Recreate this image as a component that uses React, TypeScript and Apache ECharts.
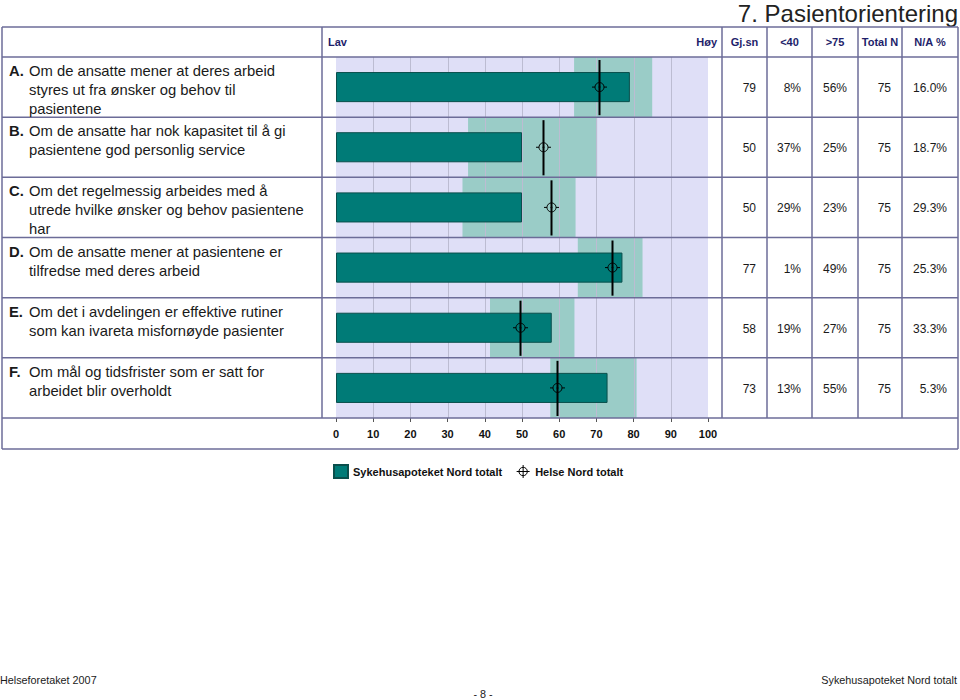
import React, { useEffect, useRef } from 'react';
import * as echarts from 'echarts';

// ---------- data ----------
const CATEGORIES = ['A', 'B', 'C', 'D', 'E', 'F'];
const QUESTIONS: string[][] = [
  ['Om de ansatte mener at deres arbeid', 'styres ut fra ønsker og behov til', 'pasientene'],
  ['Om de ansatte har nok kapasitet til å gi', 'pasientene god personlig service'],
  ['Om det regelmessig arbeides med å', 'utrede hvilke ønsker og behov pasientene', 'har'],
  ['Om de ansatte mener at pasientene er', 'tilfredse med deres arbeid'],
  ['Om det i avdelingen er effektive rutiner', 'som kan ivareta misfornøyde pasienter'],
  ['Om mål og tidsfrister som er satt for', 'arbeidet blir overholdt'],
];
const GJSN = [79, 50, 50, 77, 58, 73];
const UNDER40 = ['8%', '37%', '29%', '1%', '19%', '13%'];
const OVER75 = ['56%', '25%', '23%', '49%', '27%', '55%'];
const TOTAL_N = [75, 75, 75, 75, 75, 75];
const NA_PCT = ['16.0%', '18.7%', '29.3%', '25.3%', '33.3%', '5.3%'];
const HELSE_NORD = [70.7, 55.7, 57.8, 74.2, 49.4, 59.4];
const RANGE_LOW = [64, 35.5, 34, 65, 41.4, 57.6];
const RANGE_HIGH = [85, 70.2, 64.4, 82.4, 64.1, 80.8];
const X_TICKS_MIN = 0;
const X_TICKS_MAX = 100;
const X_INTERVAL = 10;
const HEADERS = ['Gj.sn', '<40', '>75', 'Total N', 'N/A %'];
const TITLE = '7. Pasientorientering';
const SERIES_UNIT = 'Sykehusapoteket Nord totalt';
const SERIES_REF = 'Helse Nord totalt';
const FOOTER_LEFT = 'Helseforetaket 2007';
const FOOTER_MID = '- 8 -';
const FOOTER_RIGHT = 'Sykehusapoteket Nord totalt';

// ---------- layout / style ----------
const FONT = '"Liberation Sans", Arial, Helvetica, sans-serif';
const LINE = '#6C6C98';
const NAVY = '#1E1E6A';
const TXT = '#1A1A1A';
const LAVENDER = '#DFDFF7';
const BAND = '#9ACCC7';
const GRIDLINE = '#BCBCD2';
const TEAL = '#007B77';
const TEAL_BORDER = '#0A4F4C';

const TABLE_L = 2;
const TABLE_R = 958;
const TABLE_T = 27;
const HEADER_B = 57;
const ROWS_B = 418;
const TABLE_B = 449;
const LABEL_DIV = 322;
const COL_X = [722, 767, 812, 858, 902, 958];
const GRID_L = 336;
const GRID_W = 372;

const MARKER_ICON =
  'path://M7,0 L7,14 M0,7 L14,7 M11.5,7 C11.5,9.49 9.49,11.5 7,11.5 C4.51,11.5 2.5,9.49 2.5,7 C2.5,4.51 4.51,2.5 7,2.5 C9.49,2.5 11.5,4.51 11.5,7 Z';

export default function App() {
  const ref = useRef<HTMLDivElement>(null);

  useEffect(() => {
    if (!ref.current) return;
    const chart = echarts.init(ref.current, undefined, { renderer: 'svg' });
    const n = CATEGORIES.length;
    const rowH = (ROWS_B - HEADER_B) / n;
    const rowTop = (i: number) => HEADER_B + i * rowH;

    const g: any[] = [];
    // title
    g.push({
      type: 'text', x: TABLE_R, y: 13, z: 100,
      style: { text: TITLE, fill: '#222', fontSize: 24, fontFamily: FONT, align: 'right', verticalAlign: 'middle' },
    });
    // table lines
    const hl = (y: number) => g.push({
      type: 'line', z: 100, shape: { x1: TABLE_L, y1: y, x2: TABLE_R, y2: y },
      style: { stroke: LINE, lineWidth: 1.5 },
    });
    const vl = (x: number, y1: number, y2: number) => g.push({
      type: 'line', z: 100, shape: { x1: x, y1, x2: x, y2 },
      style: { stroke: LINE, lineWidth: 1.5 },
    });
    hl(TABLE_T);
    hl(HEADER_B);
    for (let i = 1; i <= n; i++) hl(rowTop(i));
    hl(TABLE_B);
    vl(TABLE_L, TABLE_T, TABLE_B);
    vl(TABLE_R, TABLE_T, TABLE_B);
    vl(LABEL_DIV, TABLE_T, ROWS_B);
    for (let c = 0; c < COL_X.length - 1; c++) vl(COL_X[c], TABLE_T, ROWS_B);

    // header texts
    const headY = (TABLE_T + HEADER_B) / 2;
    const headStyle = { fill: NAVY, fontSize: 11, fontWeight: 'bold', fontFamily: FONT, verticalAlign: 'middle' };
    g.push({ type: 'text', x: 328, y: headY, z: 100, style: { ...headStyle, text: 'Lav', align: 'left' } });
    g.push({ type: 'text', x: COL_X[0] - 5, y: headY, z: 100, style: { ...headStyle, text: 'Høy', align: 'right' } });
    HEADERS.forEach((h, c) => {
      g.push({
        type: 'text', x: (COL_X[c] + COL_X[c + 1]) / 2, y: headY, z: 100,
        style: { ...headStyle, text: h, align: 'center' },
      });
    });

    // row labels and values
    const cols = [GJSN.map(String), UNDER40, OVER75, TOTAL_N.map(String), NA_PCT];
    for (let i = 0; i < n; i++) {
      const top = rowTop(i);
      g.push({
        type: 'text', x: 9, y: top + 14, z: 100,
        style: { text: CATEGORIES[i] + '.', fill: TXT, fontSize: 14.8, fontWeight: 'bold', fontFamily: FONT, align: 'left', verticalAlign: 'middle' },
      });
      g.push({
        type: 'text', x: 29, y: top + 4.5, z: 100,
        style: { text: QUESTIONS[i].join('\n'), fill: TXT, fontSize: 14.8, lineHeight: 19, fontFamily: FONT, align: 'left', verticalAlign: 'top' },
      });
      const cy = top + rowH / 2 + 1;
      cols.forEach((col, c) => {
        g.push({
          type: 'text', x: COL_X[c + 1] - 11, y: cy, z: 100,
          style: { text: col[i], fill: TXT, fontSize: 12, fontFamily: FONT, align: 'right', verticalAlign: 'middle' },
        });
      });
    }

    // footer
    const footStyle = { fill: TXT, fontSize: 10.8, fontFamily: FONT, verticalAlign: 'middle' };
    g.push({ type: 'text', x: 0, y: 680, style: { ...footStyle, text: FOOTER_LEFT, align: 'left' } });
    g.push({ type: 'text', x: 483, y: 694, style: { ...footStyle, text: FOOTER_MID, align: 'center' } });
    g.push({ type: 'text', x: 957, y: 680, style: { ...footStyle, text: FOOTER_RIGHT, align: 'right' } });

    const bgData = CATEGORIES.map((_, i) => [i, RANGE_LOW[i], RANGE_HIGH[i]]);
    const refData = CATEGORIES.map((_, i) => [i, HELSE_NORD[i]]);

    chart.setOption({
      animation: false,
      grid: { left: GRID_L, top: HEADER_B, width: GRID_W, height: ROWS_B - HEADER_B, containLabel: false },
      xAxis: {
        type: 'value', min: X_TICKS_MIN, max: X_TICKS_MAX, interval: X_INTERVAL,
        axisLine: { show: false },
        axisTick: { show: true, length: 4, lineStyle: { color: '#555', width: 1 } },
        axisLabel: { fontSize: 11, fontWeight: 'bold', color: '#111', fontFamily: FONT, margin: 10 },
        splitLine: { show: false },
      },
      yAxis: {
        type: 'category', data: CATEGORIES, inverse: true, show: false,
      },
      legend: {
        left: 328, top: 459, itemWidth: 14, itemHeight: 13, itemGap: 14,
        textStyle: { fontSize: 11, fontWeight: 'bold', color: '#111', fontFamily: FONT },
        selectedMode: false,
        data: [
          { name: SERIES_UNIT, icon: 'rect' },
          {
            name: SERIES_REF,
            icon: MARKER_ICON,
            itemStyle: { color: 'rgba(0,0,0,0)', borderColor: '#000', borderWidth: 1 },
          },
        ],
      },
      graphic: { elements: g },
      series: [
        {
          type: 'custom', name: 'bg', silent: true, z: 1,
          encode: { x: [1, 2], y: 0 },
          data: bgData,
          renderItem: (_p: any, api: any) => {
            const idx = api.value(0);
            const lo = api.value(1);
            const hi = api.value(2);
            const c0 = api.coord([X_TICKS_MIN, idx]);
            const c100 = api.coord([X_TICKS_MAX, idx]);
            const h = api.size([0, 1])[1];
            const top = c0[1] - h / 2;
            const xl = api.coord([lo, idx])[0];
            const xh = api.coord([hi, idx])[0];
            const children: any[] = [
              { type: 'rect', shape: { x: c0[0], y: top, width: c100[0] - c0[0], height: h }, style: { fill: LAVENDER } },
              { type: 'rect', shape: { x: xl, y: top, width: xh - xl, height: h }, style: { fill: BAND } },
            ];
            for (let v = X_TICKS_MIN + X_INTERVAL; v < X_TICKS_MAX; v += X_INTERVAL) {
              const x = Math.round(api.coord([v, idx])[0]) + 0.5;
              children.push({ type: 'line', shape: { x1: x, y1: top, x2: x, y2: top + h }, style: { stroke: GRIDLINE, lineWidth: 1 } });
            }
            return { type: 'group', children };
          },
        },
        {
          type: 'bar', name: SERIES_UNIT, data: GJSN, barWidth: '50%', z: 3,
          itemStyle: { color: TEAL, borderColor: TEAL_BORDER, borderWidth: 1 },
        },
        {
          type: 'custom', name: SERIES_REF, z: 5,
          encode: { x: 1, y: 0 },
          data: refData,
          itemStyle: { color: '#000' },
          renderItem: (_p: any, api: any) => {
            const idx = api.value(0);
            const p = api.coord([api.value(1), idx]);
            const h = api.size([0, 1])[1];
            const x = Math.round(p[0]) + 0.5;
            const y = p[1];
            const top = y - h / 2;
            return {
              type: 'group',
              children: [
                { type: 'line', shape: { x1: x, y1: top + 3, x2: x, y2: top + h - 2 }, style: { stroke: '#000', lineWidth: 2 } },
                { type: 'circle', shape: { cx: x, cy: y, r: 4.5 }, style: { fill: 'none', stroke: '#000', lineWidth: 1 } },
                { type: 'line', shape: { x1: x - 7.5, y1: y, x2: x - 4.5, y2: y }, style: { stroke: '#000', lineWidth: 1 } },
                { type: 'line', shape: { x1: x + 4.5, y1: y, x2: x + 7.5, y2: y }, style: { stroke: '#000', lineWidth: 1 } },
                { type: 'circle', shape: { cx: x, cy: y, r: 0.9 }, style: { fill: '#000' } },
              ],
            };
          },
        },
      ],
    });
    return () => chart.dispose();
  }, []);

  return <div ref={ref} style={{ position: 'absolute', left: 0, top: 0, width: 960, height: 700, background: '#fff' }} />;
}
